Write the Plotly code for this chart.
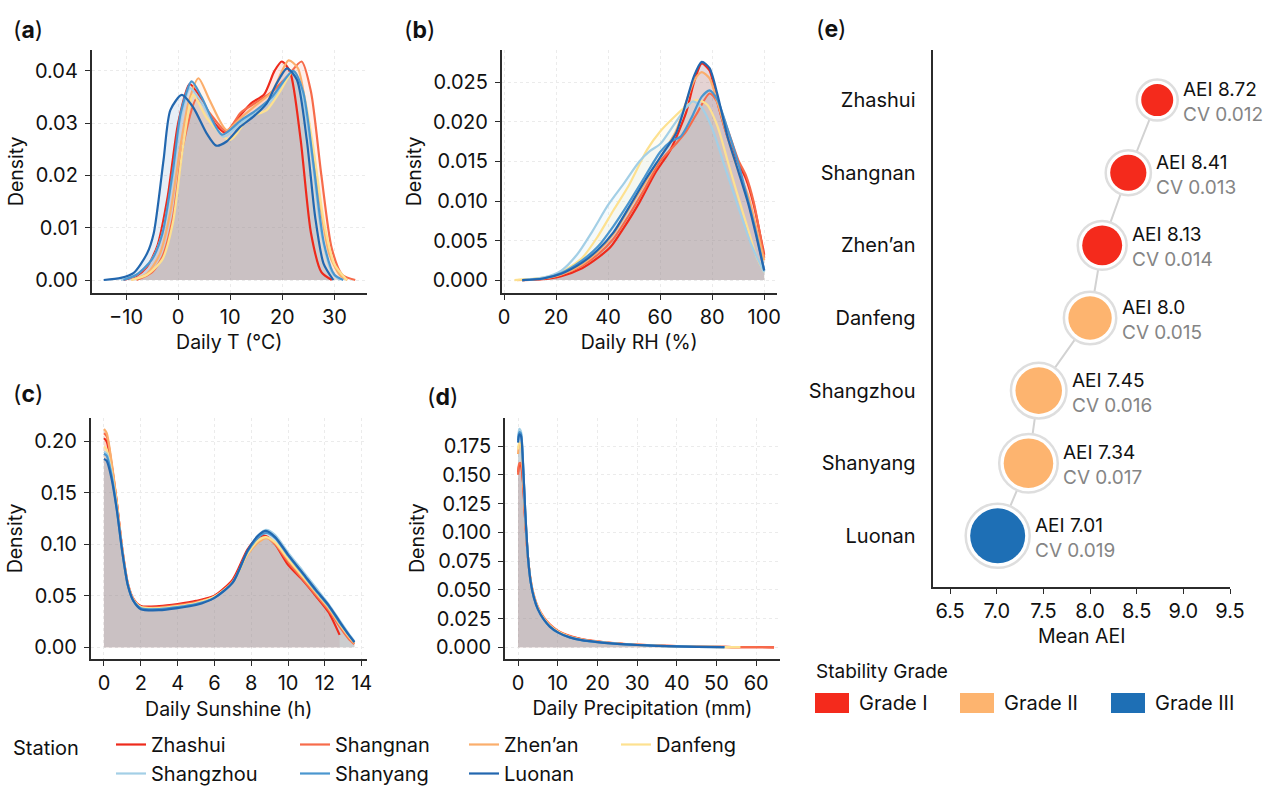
import math
import plotly.graph_objects as go

W, H = 1266, 787
FONT = "Inter, Noto Sans, sans-serif"

# ---------------- data ----------------
STATIONS = ["Zhashui", "Shangnan", "Zhen’an", "Danfeng", "Shangzhou", "Shanyang", "Luonan"]
COLORS = ["#EE2A1C", "#F76B4A", "#FBAE6C", "#FDE190", "#A3CFE6", "#4A96CF", "#2267AF"]

# (a) Daily temperature density
TEMP_X = {
    "Zhashui":   [-10.5, -8, -6, -4, -2, 0, 2.2, 4.5, 7, 9, 11.5, 14, 16.5, 18.5, 19.9, 21.5, 23.5, 25.5, 27.5, 29.5],
    "Shangnan":  [-8, -5, -3, -1, 1, 3.6, 6, 9.3, 12, 15, 18, 21, 23.7, 25.5, 27.5, 29.5, 31.5, 34],
    "Zhen’an":   [-9, -6, -3.5, -1.5, 0.5, 2, 3.9, 6, 9.3, 12, 15, 18, 21.2, 23, 25, 27, 29, 31, 32.5],
    "Danfeng":   [-9, -6, -3, -1, 1, 2.9, 5.5, 10, 13.5, 17, 19.5, 22.1, 24, 26, 28, 30, 32.4],
    "Shangzhou": [-11, -8, -5, -3, -1, 0.5, 2.3, 4.5, 8.7, 12, 15, 18, 21.8, 23.5, 25.5, 27.5, 29.5, 31],
    "Shanyang":  [-10.5, -8, -5, -3, -1, 0.5, 2.6, 4.5, 8.4, 12, 15, 18, 22.1, 24, 26, 28, 30, 31.7],
    "Luonan":    [-14.3, -11, -8.6, -6, -4.7, -2.8, -1.5, 0.7, 2.9, 5.5, 7.3, 9.3, 11.9, 14.5, 17, 18.9, 20.9, 22.8, 24.7, 26.3, 27.9, 29.8],
}
TEMP_Y = {
    "Zhashui":   [0, 0.0008, 0.0025, 0.0065, 0.016, 0.030, 0.0375, 0.0345, 0.030, 0.0282, 0.031, 0.0338, 0.0355, 0.040, 0.0418, 0.0398, 0.027, 0.009, 0.0015, 0],
    "Shangnan":  [0, 0.0015, 0.0045, 0.012, 0.026, 0.0348, 0.032, 0.0284, 0.032, 0.034, 0.036, 0.039, 0.0418, 0.036, 0.02, 0.006, 0.001, 0],
    "Zhen’an":   [0, 0.0012, 0.005, 0.013, 0.026, 0.034, 0.0386, 0.0345, 0.0287, 0.031, 0.0335, 0.036, 0.042, 0.0405, 0.03, 0.016, 0.005, 0.001, 0],
    "Danfeng":   [0, 0.001, 0.004, 0.011, 0.026, 0.0354, 0.031, 0.0268, 0.031, 0.0325, 0.036, 0.0399, 0.036, 0.025, 0.011, 0.003, 0],
    "Shangzhou": [0, 0.001, 0.004, 0.009, 0.020, 0.031, 0.0367, 0.034, 0.0274, 0.030, 0.032, 0.0345, 0.0399, 0.037, 0.025, 0.009, 0.0015, 0],
    "Shanyang":  [0, 0.001, 0.004, 0.009, 0.021, 0.032, 0.038, 0.035, 0.0278, 0.0305, 0.0325, 0.035, 0.040, 0.036, 0.022, 0.007, 0.001, 0],
    "Luonan":    [0, 0.0004, 0.0013, 0.005, 0.0089, 0.023, 0.0325, 0.0354, 0.033, 0.028, 0.0257, 0.0265, 0.0293, 0.0313, 0.0338, 0.0376, 0.0405, 0.0383, 0.0268, 0.0121, 0.0032, 0],
}

# (b) Daily relative humidity density
RH_X = {
    "Zhashui":   [7, 15, 22, 30, 36, 41, 46, 52, 58, 64, 70, 73, 76, 79, 82, 86, 90, 93, 96, 100],
    "Shangnan":  [7, 15, 22, 30, 36, 42, 48, 54, 60, 66, 70, 74, 79, 82, 86, 90, 93, 96, 100],
    "Zhen’an":   [5, 15, 22, 30, 36, 42, 48, 54, 60, 66, 70, 73, 76, 79, 82, 86, 90, 94, 97, 100],
    "Danfeng":   [4, 15, 22, 30, 36, 42, 48, 55, 60, 65, 70, 74, 78, 82, 86, 90, 94, 97, 100],
    "Shangzhou": [7, 15, 22, 28, 34, 40, 46, 52, 56, 60, 65, 70, 72.7, 76, 80, 85, 90, 95, 100],
    "Shanyang":  [7, 15, 22, 30, 36, 42, 48, 54, 60, 64, 68, 72, 76, 79, 82, 86, 90, 94, 97, 100],
    "Luonan":    [7, 15, 22, 30, 36, 42, 48, 54, 60, 66, 70, 73, 76, 79, 82, 86, 90, 94, 97, 100],
}
RH_Y = {
    "Zhashui":   [0, 0.0001, 0.0005, 0.0015, 0.0028, 0.0042, 0.0066, 0.0098, 0.0135, 0.0165, 0.0212, 0.025, 0.0274, 0.0265, 0.0225, 0.018, 0.0148, 0.0128, 0.0095, 0.0032],
    "Shangnan":  [0, 0.0002, 0.0007, 0.0018, 0.0032, 0.0052, 0.0082, 0.0115, 0.015, 0.0172, 0.0188, 0.021, 0.0236, 0.0225, 0.019, 0.0152, 0.0132, 0.0098, 0.0028],
    "Zhen’an":   [0, 0.0002, 0.0007, 0.002, 0.0036, 0.0058, 0.009, 0.0122, 0.0155, 0.0188, 0.0225, 0.0252, 0.0263, 0.0255, 0.0225, 0.018, 0.0138, 0.0105, 0.0065, 0.0025],
    "Danfeng":   [0, 0.0003, 0.001, 0.0028, 0.0055, 0.0088, 0.012, 0.0165, 0.0188, 0.0205, 0.022, 0.0228, 0.0222, 0.0195, 0.015, 0.0105, 0.0062, 0.003, 0.001],
    "Shangzhou": [0, 0.0003, 0.0012, 0.0032, 0.0062, 0.0095, 0.0122, 0.015, 0.0163, 0.0172, 0.0195, 0.0218, 0.0226, 0.0218, 0.0192, 0.0142, 0.0093, 0.0045, 0.001],
    "Shanyang":  [0, 0.0002, 0.0009, 0.0025, 0.0042, 0.0068, 0.0098, 0.013, 0.0162, 0.0175, 0.0182, 0.0205, 0.0232, 0.024, 0.0228, 0.019, 0.0148, 0.0098, 0.0058, 0.0012],
    "Luonan":    [0, 0.0002, 0.0008, 0.0022, 0.0038, 0.006, 0.0092, 0.0125, 0.0155, 0.0185, 0.0225, 0.0258, 0.0276, 0.0268, 0.0235, 0.018, 0.0138, 0.0095, 0.0055, 0.0012],
}

# (c) Daily sunshine density (shared x grid)
SUN_X = [0, 0.15, 0.4, 0.7, 1.0, 1.3, 1.6, 2.0, 3, 4, 5, 6, 7, 7.8, 8.4, 8.8, 9.3, 10, 10.8, 11.5, 12.2, 12.8, 13.3, 13.6]
SUN_Y = {
    "Zhashui":   [0.203, 0.2, 0.178, 0.14, 0.095, 0.062, 0.047, 0.04, 0.04, 0.042, 0.045, 0.05, 0.066, 0.095, 0.107, 0.108, 0.1, 0.08, 0.065, 0.05, 0.034, 0.012, None, None],
    "Shangnan":  [0.208, 0.205, 0.18, 0.14, 0.094, 0.061, 0.046, 0.039, 0.039, 0.041, 0.044, 0.049, 0.063, 0.092, 0.104, 0.107, 0.1, 0.083, 0.066, 0.051, 0.036, 0.02, 0.008, 0.003],
    "Zhen’an":   [0.212, 0.208, 0.182, 0.141, 0.094, 0.061, 0.046, 0.039, 0.038, 0.04, 0.043, 0.049, 0.064, 0.09, 0.102, 0.106, 0.101, 0.085, 0.068, 0.053, 0.038, 0.022, 0.01, 0.004],
    "Danfeng":   [0.195, 0.192, 0.172, 0.136, 0.093, 0.061, 0.046, 0.039, 0.038, 0.04, 0.043, 0.049, 0.063, 0.091, 0.104, 0.107, 0.102, 0.086, 0.069, 0.054, 0.039, 0.023, 0.011, 0.005],
    "Shangzhou": [0.19, 0.188, 0.17, 0.135, 0.092, 0.06, 0.045, 0.038, 0.037, 0.039, 0.042, 0.048, 0.063, 0.093, 0.109, 0.114, 0.109, 0.092, 0.074, 0.058, 0.042, 0.026, 0.013, 0.006],
    "Shanyang":  [0.188, 0.186, 0.168, 0.134, 0.092, 0.06, 0.045, 0.038, 0.037, 0.039, 0.042, 0.048, 0.063, 0.093, 0.107, 0.111, 0.106, 0.089, 0.071, 0.055, 0.04, 0.024, 0.012, 0.005],
    "Luonan":    [0.183, 0.181, 0.165, 0.133, 0.092, 0.06, 0.045, 0.037, 0.036, 0.038, 0.041, 0.048, 0.063, 0.094, 0.109, 0.113, 0.107, 0.09, 0.072, 0.056, 0.041, 0.025, 0.012, 0.005],
}

# (d) Daily precipitation density (shared x grid)
PRE_X = [0, 0.3, 0.7, 1.2, 1.8, 2.5, 3.2, 4, 5, 6.5, 8, 10, 13, 16, 20, 25, 30, 35, 40, 45, 52, 56, 60, 64.5]
PRE_Y = {
    "Zhashui":   [0.152, 0.158, 0.158, 0.145, 0.11, 0.077, 0.057, 0.044, 0.034, 0.025, 0.019, 0.014, 0.0095, 0.007, 0.005, 0.0033, 0.0022, 0.0015, 0.001, 0.0006, 0.0003, 0.0002, 0.0001, 0],
    "Shangnan":  [0.15, 0.16, 0.16, 0.146, 0.111, 0.078, 0.058, 0.045, 0.035, 0.026, 0.02, 0.0145, 0.01, 0.0072, 0.0052, 0.0034, 0.0023, 0.0016, 0.001, 0.0006, 0.0003, 0.0002, 0.0001, 0],
    "Zhen’an":   [0.168, 0.176, 0.176, 0.156, 0.115, 0.078, 0.057, 0.044, 0.034, 0.025, 0.019, 0.0138, 0.0092, 0.0068, 0.0048, 0.0032, 0.0021, 0.0014, 0.0009, 0.0005, 0.0002, 0.0001, None, None],
    "Danfeng":   [0.172, 0.178, 0.177, 0.157, 0.115, 0.078, 0.057, 0.044, 0.034, 0.025, 0.019, 0.0136, 0.009, 0.0066, 0.0047, 0.0031, 0.002, 0.0013, 0.0008, 0.0005, 0.0002, 0.0001, None, None],
    "Shangzhou": [0.182, 0.19, 0.188, 0.164, 0.118, 0.078, 0.056, 0.043, 0.033, 0.024, 0.018, 0.013, 0.0087, 0.0063, 0.0045, 0.003, 0.002, 0.0013, 0.0008, 0.0004, 0.0002, None, None, None],
    "Shanyang":  [0.18, 0.187, 0.186, 0.163, 0.118, 0.078, 0.056, 0.043, 0.033, 0.024, 0.018, 0.013, 0.0086, 0.0063, 0.0045, 0.003, 0.002, 0.0013, 0.0008, 0.0004, 0.0002, None, None, None],
    "Luonan":    [0.178, 0.185, 0.184, 0.162, 0.118, 0.078, 0.056, 0.043, 0.033, 0.024, 0.018, 0.013, 0.0086, 0.0062, 0.0045, 0.003, 0.002, 0.0013, 0.0008, 0.0004, 0.0002, None, None, None],
}

# (e) Mean AEI
E_STATIONS = ["Zhashui", "Shangnan", "Zhen’an", "Danfeng", "Shangzhou", "Shanyang", "Luonan"]
E_AEI = [8.72, 8.41, 8.13, 8.0, 7.45, 7.34, 7.01]
E_CV = [0.012, 0.013, 0.014, 0.015, 0.016, 0.017, 0.019]
E_GRADE = ["Grade I", "Grade I", "Grade I", "Grade II", "Grade II", "Grade II", "Grade III"]
GRADES = ["Grade I", "Grade II", "Grade III"]
GRADE_COLORS = {"Grade I": "#F42A1C", "Grade II": "#FDB46F", "Grade III": "#1E6FB5"}

# ---------------- helpers ----------------
def px(x):
    return x / W

def py(y):
    return 1 - y / H

def rgba(hexc, a):
    h = hexc.lstrip("#")
    return "rgba(%d,%d,%d,%.3f)" % (int(h[0:2], 16), int(h[2:4], 16), int(h[4:6], 16), a)

fig = go.Figure()

panels = [
    ("x", "y", TEMP_X, TEMP_Y),
    ("x2", "y2", RH_X, RH_Y),
    ("x3", "y3", {s: SUN_X for s in STATIONS}, SUN_Y),
    ("x4", "y4", {s: PRE_X for s in STATIONS}, PRE_Y),
]
LEGEND_OF = {"Zhashui": "legend", "Shangzhou": "legend", "Shangnan": "legend2", "Shanyang": "legend2",
             "Zhen’an": "legend3", "Luonan": "legend3", "Danfeng": "legend4"}

for pi, (xa, ya, XD, YD) in enumerate(panels):
    for s, c in zip(STATIONS, COLORS):
        fig.add_trace(go.Scatter(x=XD[s], y=YD[s], xaxis=xa, yaxis=ya, mode="lines",
                                 line=dict(width=0, shape="spline", smoothing=0.7, color=c),
                                 fill="tozeroy", fillcolor=rgba(c, 0.11),
                                 showlegend=False, hoverinfo="skip"))
    for s, c in zip(STATIONS, COLORS):
        fig.add_trace(go.Scatter(x=XD[s], y=YD[s], xaxis=xa, yaxis=ya, mode="lines",
                                 line=dict(width=2.2, shape="spline", smoothing=0.7, color=c),
                                 name=s, legend=LEGEND_OF[s], showlegend=(pi == 0)))

# panel (e)
diam = [math.sqrt(1024 + 286000 * (cv - 0.012)) for cv in E_CV]
fig.add_trace(go.Scatter(x=E_AEI, y=E_STATIONS, xaxis="x5", yaxis="y5", mode="lines",
                         line=dict(color="#d2d2d2", width=2), showlegend=False, hoverinfo="skip"))
fig.add_trace(go.Scatter(x=E_AEI, y=E_STATIONS, xaxis="x5", yaxis="y5", mode="markers",
                         marker=dict(size=[d + 9 for d in diam], color="white", opacity=1,
                                     line=dict(color="#dedede", width=2.5)),
                         showlegend=False, hoverinfo="skip"))
fig.add_trace(go.Scatter(x=E_AEI, y=E_STATIONS, xaxis="x5", yaxis="y5", mode="markers",
                         marker=dict(size=diam, color=[GRADE_COLORS[g] for g in E_GRADE], opacity=1,
                                     line=dict(width=0)),
                         showlegend=False))

annotations = []
for s, v, cv, d in zip(E_STATIONS, E_AEI, E_CV, diam):
    annotations.append(dict(
        x=v, y=s, xref="x5", yref="y5", xanchor="left", yanchor="middle", align="left",
        xshift=d / 2 + 8, yshift=-2, showarrow=False,
        text="AEI %s<br><span style='color:#858585'>CV %.3f</span>" % (v, cv),
        font=dict(family=FONT, size=19, color="#111111")))

# panel tags
for lab, x0, y0 in [("(<b>a</b>)", 11, 30), ("(<b>b</b>)", 402, 30), ("(<b>c</b>)", 11, 394),
                    ("(<b>d</b>)", 425, 397), ("(<b>e</b>)", 814, 29)]:
    annotations.append(dict(x=px(x0), y=py(y0), xref="paper", yref="paper", xanchor="left",
                            yanchor="middle", showarrow=False, text=lab,
                            font=dict(family=FONT, size=23, color="#111111")))

annotations.append(dict(x=px(11), y=py(748), xref="paper", yref="paper", xanchor="left", yanchor="middle",
                        showarrow=False, text="Station", font=dict(family=FONT, size=20, color="#111111")))

annotations.append(dict(x=px(814), y=py(671), xref="paper", yref="paper", xanchor="left", yanchor="middle",
                        showarrow=False, text="Stability Grade", font=dict(family=FONT, size=19, color="#111111")))
shapes = []
for g, x0 in zip(GRADES, [815, 960, 1111]):
    shapes.append(dict(type="rect", xref="paper", yref="paper", x0=px(x0), x1=px(x0 + 34),
                       y0=py(713), y1=py(693), fillcolor=GRADE_COLORS[g], line=dict(width=0)))
    annotations.append(dict(x=px(x0 + 42), y=py(703), xref="paper", yref="paper", xanchor="left",
                            yanchor="middle", showarrow=False, text=g,
                            font=dict(family=FONT, size=20, color="#111111")))

AX = dict(showline=True, linecolor="#2b2b2b", linewidth=1.6, ticks="outside", ticklen=5,
          tickcolor="#2b2b2b", tickwidth=1.4, showgrid=True, gridcolor="#ebebeb", griddash="dot",
          gridwidth=1, zeroline=False, tickfont=dict(family=FONT, size=20, color="#111111"),
          title_font=dict(family=FONT, size=19.5, color="#111111"), fixedrange=True)

def ax(**kw):
    d = dict(AX)
    d.update(kw)
    return d

leg = dict(font=dict(family=FONT, size=20, color="#111111"), bgcolor="rgba(0,0,0,0)",
           orientation="v", xanchor="left", yanchor="top", itemwidth=30, tracegroupgap=0,
           traceorder="normal", y=py(725))

fig.update_layout(
    autosize=True, margin=dict(l=0, r=0, t=0, b=0, autoexpand=False),
    paper_bgcolor="white", plot_bgcolor="white",
    font=dict(family=FONT, color="#111111"),
    xaxis=ax(domain=[px(91.7), px(366.7)], range=[-16.6, 36.2], tickvals=[-10, 0, 10, 20, 30],
             anchor="y", title=dict(text="Daily T (°C)", standoff=8)),
    yaxis=ax(domain=[py(292.7), py(50)], range=[-0.00243, 0.044], tickvals=[0, 0.01, 0.02, 0.03, 0.04],
             tickformat=".2f", anchor="x", ticklabelstandoff=3, title=dict(text="Density", standoff=6)),
    xaxis2=ax(domain=[px(501.7), px(776.7)], range=[-0.9, 104.8], tickvals=[0, 20, 40, 60, 80, 100],
              anchor="y2", title=dict(text="Daily RH (%)", standoff=8)),
    yaxis2=ax(domain=[py(292.7), py(50)], range=[-0.0016, 0.0291],
              tickvals=[0, 0.005, 0.01, 0.015, 0.02, 0.025], tickformat=".3f", anchor="x2",
              ticklabelstandoff=3, title=dict(text="Density", standoff=6)),
    xaxis3=ax(domain=[px(90.7), px(366.7)], range=[-0.72, 14.27], tickvals=list(range(0, 15, 2)),
              anchor="y3", title=dict(text="Daily Sunshine (h)", standoff=8)),
    yaxis3=ax(domain=[py(659.3), py(417.7)], range=[-0.0117, 0.223], tickvals=[0, 0.05, 0.1, 0.15, 0.2],
              tickformat=".2f", anchor="x3", ticklabelstandoff=3, title=dict(text="Density", standoff=6)),
    xaxis4=ax(domain=[px(505), px(780)], range=[-3.3, 66.0], tickvals=[0, 10, 20, 30, 40, 50, 60],
              anchor="y4", title=dict(text="Daily Precipitation (mm)", standoff=8)),
    yaxis4=ax(domain=[py(658.7), py(417.7)], range=[-0.0099, 0.1996],
              tickvals=[0, 0.025, 0.05, 0.075, 0.1, 0.125, 0.15, 0.175], tickformat=".3f", anchor="x4",
              ticklabelstandoff=3, title=dict(text="Density", standoff=6)),
    xaxis5=ax(domain=[px(933.3), px(1230)], range=[6.32, 9.5],
              tickvals=[6.5, 7.0, 7.5, 8.0, 8.5, 9.0, 9.5], tickformat=".1f", showgrid=False,
              anchor="y5", title=dict(text="Mean AEI", standoff=8)),
    yaxis5=ax(domain=[py(586.7), py(50)], type="category", categoryorder="array",
              categoryarray=list(reversed(E_STATIONS)), range=[-0.7, 6.69], ticks="", showgrid=False,
              anchor="x5", ticklabelstandoff=12),
    legend=dict(leg, x=px(111)),
    legend2=dict(leg, x=px(295)),
    legend3=dict(leg, x=px(464)),
    legend4=dict(leg, x=px(616)),
    annotations=annotations,
    shapes=shapes,
)

fig.write_html("out.html",
               config={"displayModeBar": False},
               default_width="%dpx;position:absolute;left:0;top:0" % W,
               default_height="%dpx" % H,
               post_script="document.body.style.margin='0';")
